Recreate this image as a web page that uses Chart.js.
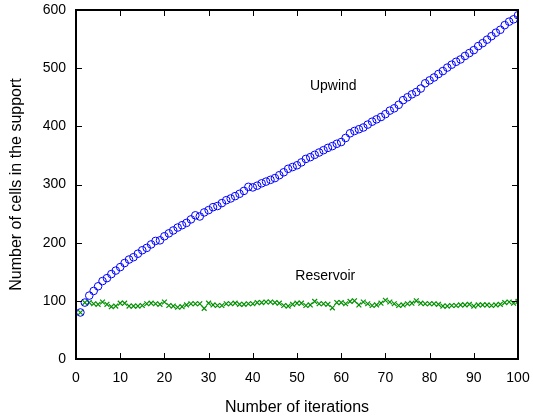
<!DOCTYPE html>
<html>
<head>
  <meta charset="UTF-8">
  <title>Number of cells in the support</title>
  <script src="https://cdn.jsdelivr.net/npm/chart.js"></script>
  <style>
    html, body { margin: 0; padding: 0; background: #fff; }
    .chart-container { width: 533px; height: 418px; position: relative; }
  </style>
</head>
<body>
  <div class="chart-container">
    <canvas id="myChart"></canvas>
  </div>

  <script>
    // x = iteration number 1..100
    const iterations = Array.from({ length: 100 }, (_, i) => i + 1);

    const upwind = [
      80, 97, 109, 117, 125, 134, 139, 146, 152, 158,
      165, 171, 175, 181, 187, 191, 197, 203, 204, 211,
      216, 221, 226, 230, 234, 240, 247, 245, 252, 256,
      261, 263, 268, 273, 276, 280, 284, 289, 296, 295,
      298, 302, 305, 308, 311, 316, 321, 327, 330, 333,
      338, 344, 347, 351, 355, 359, 363, 366, 370, 373,
      380, 388, 392, 395, 398, 403, 408, 412, 416, 421,
      427, 431, 437, 445, 450, 455, 459, 465, 474, 479,
      484, 490, 495, 501, 506, 511, 515, 521, 526, 531,
      538, 543, 549, 555, 561, 566, 574, 580, 584, 591
    ];

    const reservoir = [
      80, 97, 97, 95, 94, 98, 94, 90, 91, 96,
      96, 91, 91, 91, 92, 95, 96, 95, 94, 98,
      92, 91, 89, 90, 93, 95, 95, 95, 87, 96,
      93, 92, 92, 95, 95, 96, 94, 94, 95, 95,
      97, 97, 98, 98, 97, 96, 92, 91, 94, 96,
      96, 92, 93, 99, 95, 95, 94, 88, 97, 97,
      95, 99, 100, 93, 98, 95, 92, 93, 96, 101,
      98, 95, 92, 93, 95, 96, 100, 96, 95, 95,
      95, 94, 91, 91, 92, 92, 93, 93, 94, 91,
      93, 93, 93, 92, 93, 94, 97, 98, 96, 99
    ];

    const xTicks = [0, 10, 20, 30, 40, 50, 60, 70, 80, 90, 100];
    const yTicks = [0, 100, 200, 300, 400, 500, 600];

    // in-chart labels: [text, x, y] in data units
    const notes = [
      ['Upwind', 58.2, 469],
      ['Reservoir', 56.4, 143]
    ];

    const FONT = '"Liberation Sans", Arial, Helvetica, sans-serif';

    // frame, inward ticks on all four sides, and the text notes
    const framePlugin = {
      id: 'frame',
      afterDatasetsDraw(chart) {
        const { ctx, chartArea: a, scales: { x, y } } = chart;
        ctx.save();
        ctx.strokeStyle = '#000';
        ctx.lineWidth = 1;
        ctx.beginPath();
        xTicks.forEach(v => {
          const px = Math.round(x.getPixelForValue(v)) + 0.5;
          ctx.moveTo(px, a.bottom); ctx.lineTo(px, a.bottom - 6);
          ctx.moveTo(px, a.top); ctx.lineTo(px, a.top + 6);
        });
        yTicks.forEach(v => {
          const py = Math.round(y.getPixelForValue(v)) + 0.5;
          ctx.moveTo(a.left, py); ctx.lineTo(a.left + 6, py);
          ctx.moveTo(a.right, py); ctx.lineTo(a.right - 6, py);
        });
        ctx.stroke();
        ctx.lineWidth = 2;
        ctx.strokeRect(a.left, a.top, a.right - a.left, a.bottom - a.top);

        ctx.fillStyle = '#000';
        ctx.font = '14px ' + FONT;
        ctx.textAlign = 'center';
        ctx.textBaseline = 'middle';
        notes.forEach(([t, vx, vy]) => {
          ctx.fillText(t, x.getPixelForValue(vx), y.getPixelForValue(vy));
        });
        ctx.restore();
      }
    };

    const ctx = document.getElementById('myChart').getContext('2d');
    new Chart(ctx, {
      type: 'scatter',
      data: {
        datasets: [
          {
            label: 'Upwind',
            data: iterations.map((it, i) => ({ x: it, y: upwind[i] })),
            pointStyle: 'circle',
            pointRadius: 3.8,
            pointBorderWidth: 1,
            borderColor: '#0000ff',
            backgroundColor: 'rgba(0,0,0,0)'
          },
          {
            label: 'Reservoir',
            data: iterations.map((it, i) => ({ x: it, y: reservoir[i] })),
            pointStyle: 'crossRot',
            pointRadius: 3.4,
            pointBorderWidth: 1.2,
            borderColor: '#009000',
            backgroundColor: '#009000'
          }
        ]
      },
      options: {
        responsive: true,
        maintainAspectRatio: false,
        animation: false,
        layout: { padding: { left: 0, right: 15, top: 10, bottom: 0 } },
        plugins: {
          legend: { display: false },
          tooltip: { enabled: false }
        },
        scales: {
          x: {
            type: 'linear',
            min: 0,
            max: 100,
            grid: { display: false, drawTicks: false },
            border: { display: false },
            ticks: {
              stepSize: 10,
              padding: 11,
              color: '#000',
              font: { family: FONT, size: 14 },
              maxRotation: 0
            },
            title: {
              display: true,
              text: 'Number of iterations',
              color: '#000',
              font: { family: FONT, size: 16 },
              padding: { top: 6, bottom: 1 }
            },
            afterFit(scale) {
              scale.height = 59;
              scale.paddingLeft = 0;
              scale.paddingRight = 0;
            }
          },
          y: {
            min: 0,
            max: 600,
            grid: { display: false, drawTicks: false },
            border: { display: false },
            ticks: {
              stepSize: 100,
              padding: 10,
              color: '#000',
              font: { family: FONT, size: 14 }
            },
            title: {
              display: true,
              text: 'Number of cells in the support',
              color: '#000',
              font: { family: FONT, size: 16 },
              padding: { top: 7, bottom: 6 }
            },
            afterFit(scale) {
              scale.width = 76;
              scale.paddingTop = 0;
              scale.paddingBottom = 0;
            }
          }
        }
      },
      plugins: [framePlugin]
    });
  </script>
</body>
</html>
